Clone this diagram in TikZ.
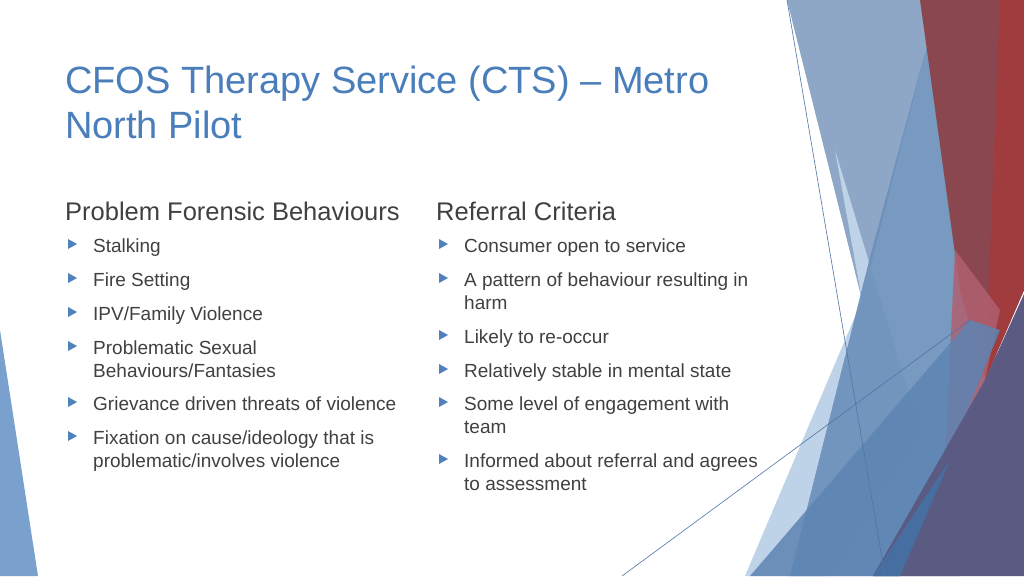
\documentclass[tikz,border=0pt]{standalone}
\usepackage{fontspec}
\setmainfont{Liberation Sans}
\begin{document}
\begin{tikzpicture}[x=1pt,y=-1pt,
  tx/.style={anchor=base west,inner sep=0pt,text=txtgray,font=\fontsize{19}{23}\selectfont,align=left},
  hd/.style={anchor=base west,inner sep=0pt,text=txtgray,font=\fontsize{25.5}{28}\selectfont},
  bul/.style={fill=bulblue,draw=none}]
\definecolor{txtgray}{HTML}{404040}
\definecolor{ttlblue}{HTML}{4A7EBB}
\definecolor{bulblue}{HTML}{4F81BD}
\useasboundingbox (0,0) rectangle (1024,576);
% decorative shapes
\fill[fill=white] (0,0) rectangle (1024,576);
\fill[color={rgb,255:red,143;green,167;blue,198}] (787,0) -- (925,0) -- (927,45) -- (862,300) -- cycle;
\fill[color={rgb,255:red,190;green,210;blue,232}] (835,150) -- (920,430) -- (830,576) -- (745,576) -- (862,300) -- cycle;
\fill[color={rgb,255:red,106;green,143;blue,186},opacity=0.9] (927,45) -- (1000,330) -- (960,576) -- (790,576) -- (870,257) -- cycle;
\fill[color={rgb,255:red,139;green,71;blue,80}] (920,0) -- (1024,0) -- (1024,290) -- (985,380) -- (960,290) -- cycle;
\fill[color={rgb,255:red,160;green,60;blue,62}] (1000,0) -- (1024,0) -- (1024,290) -- (985,380) -- cycle;
\fill[color={rgb,255:red,176;green,96;blue,112},opacity=0.85] (955,250) -- (1000,310) -- (985,380) -- (940,560) -- cycle;
\fill[color={rgb,255:red,94;green,132;blue,179},opacity=0.85] (750,576) -- (970,320) -- (1000,330) -- (900,576) -- cycle;
\fill[color={rgb,255:red,91;green,90;blue,130}] (1024,294) -- (1024,576) -- (873,576) -- (985,380) -- cycle;
\fill[color={rgb,255:red,70;green,110;blue,160}] (930,490) -- (873,576) -- (900,576) -- (950,460) -- cycle;
\coordinate (l1a) at (787,0); \coordinate (l1b) at (885,576);
\coordinate (l2a) at (622,576); \coordinate (l2b) at (970,320);
\draw[color={rgb,255:red,80;green,115;blue,165},line width=0.6pt] (l1a) -- (l1b);
\draw[color={rgb,255:red,80;green,115;blue,165},line width=0.6pt] (l2a) -- (l2b);
\fill[color={rgb,255:red,122;green,160;blue,205}] (0,330) -- (0,576) -- (38,576) -- cycle;
% title
\node[anchor=base west,inner sep=0pt,text=ttlblue,font=\fontsize{38}{45}\selectfont,align=left] (title) at (65,138) {CFOS Therapy Service (CTS) – Metro\\North Pilot};
\node[hd] (h1) at (65,220) {Problem Forensic Behaviours};
\node[hd] (h2) at (436,220) {Referral Criteria};
% bullets
\foreach \y in {252,286,320,354,410,444} {\fill[bul] (68,\y-13) -- (77,\y-8) -- (68,\y-3) -- cycle;}
\foreach \y in {252,286,343,377,410,467} {\fill[bul] (439,\y-13) -- (448,\y-8) -- (439,\y-3) -- cycle;}
\node[tx] (a1) at (93,252) {Stalking};
\node[tx] (a2) at (93,286) {Fire Setting};
\node[tx] (a3) at (93,320) {IPV/Family Violence};
\node[tx] (a4) at (93,377) {Problematic Sexual\\Behaviours/Fantasies};
\node[tx] (a5) at (93,410) {Grievance driven threats of violence};
\node[tx] (a6) at (93,467) {Fixation on cause/ideology that is\\problematic/involves violence};
\node[tx] (b1) at (464,252) {Consumer open to service};
\node[tx] (b2) at (464,309) {A pattern of behaviour resulting in\\harm};
\node[tx] (b3) at (464,343) {Likely to re-occur};
\node[tx] (b4) at (464,377) {Relatively stable in mental state};
\node[tx] (b5) at (464,433) {Some level of engagement with\\team};
\node[tx] (b6) at (464,490) {Informed about referral and agrees\\to assessment};
\end{tikzpicture}
\end{document}
